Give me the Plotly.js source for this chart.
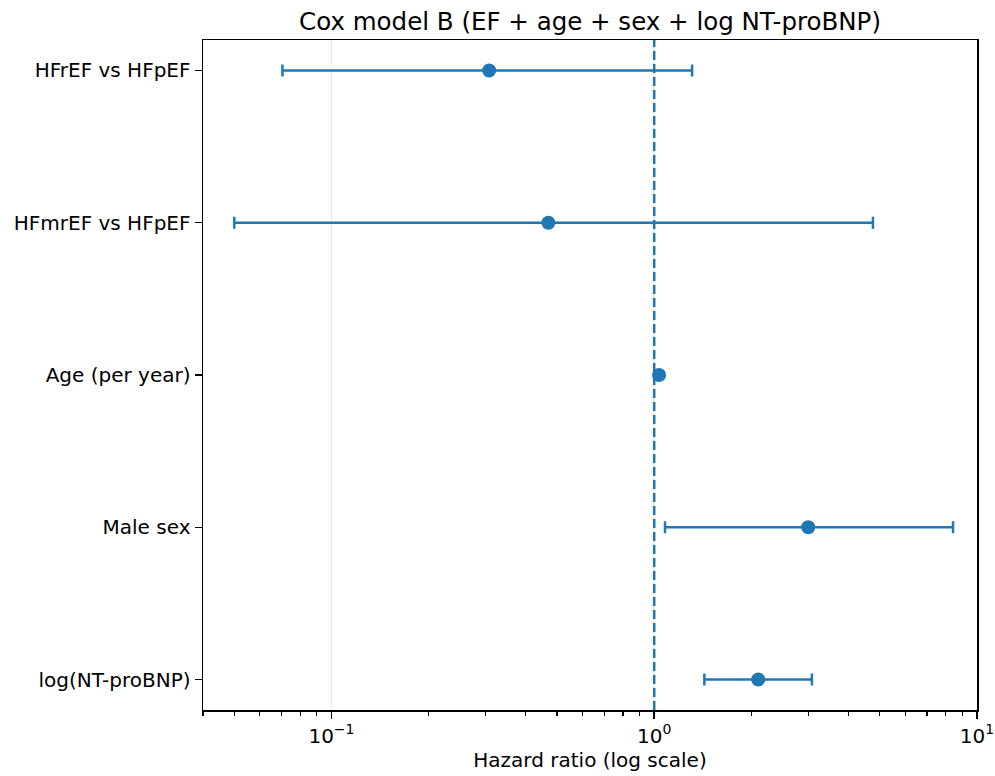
<!DOCTYPE html>
<html>
<head>
<meta charset="utf-8">
<script src="https://cdn.plot.ly/plotly-3.0.1.min.js"></script>
<style>html,body{margin:0;padding:0;background:#fff;}#chart{width:995px;height:776px;}</style>
</head>
<body>
<div id="chart"></div>
<script>
const labels = ["HFrEF vs HFpEF", "HFmrEF vs HFpEF", "Age (per year)", "Male sex", "log(NT-proBNP)"];
const hr = [0.308, 0.47, 1.035, 3.0, 2.10];
const ciLow = [0.0705, 0.050, 1.02, 1.08, 1.43];
const ciHigh = [1.31, 4.76, 1.05, 8.43, 3.08];
const majorTicks = [0.1, 1, 10];
const majorTickText = ["10<sup>\u22121</sup>", "10<sup>0</sup>", "10<sup>1</sup>"];

const pos = labels.map((_, i) => i);
const minorVals = [];
[0.01, 0.1, 1].forEach(d => { for (let k = 2; k <= 9; k++) minorVals.push(+(d * k).toPrecision(3)); });

const color = "#1f77b4";
const trace = {
  type: "scatter",
  mode: "markers",
  x: hr,
  y: pos,
  marker: {color: color, size: 14},
  error_x: {
    type: "data",
    symmetric: false,
    array: hr.map((v, i) => ciHigh[i] - v),
    arrayminus: hr.map((v, i) => v - ciLow[i]),
    color: color,
    thickness: 2.5,
    width: 6
  },
  hoverinfo: "x+y",
  showlegend: false
};

const layout = {
  width: 995,
  height: 776,
  margin: {l: 203, r: 18, t: 40, b: 66},
  paper_bgcolor: "#fff",
  plot_bgcolor: "#fff",
  font: {family: "DejaVu Sans, sans-serif", size: 20, color: "#000"},
  title: {text: "Cox model B (EF + age + sex + log NT-proBNP)", font: {size: 24.5}, x: 0.593, xanchor: "center", y: 0.973, yanchor: "middle"},
  xaxis: {
    type: "log",
    range: [Math.log10(0.04), 1.0],
    tickvals: majorTicks,
    ticktext: majorTickText,
    tickfont: {size: 20},
    ticks: "outside",
    ticklen: 7,
    tickwidth: 1.5,
    tickcolor: "#000",
    showgrid: true,
    gridcolor: "#ebebeb",
    gridwidth: 1.5,
    zeroline: false,
    showline: true,
    linecolor: "#000",
    linewidth: 1.5,
    mirror: true,
    minor: {tickvals: minorVals, ticks: "outside", ticklen: 4, tickwidth: 1.2, tickcolor: "#000", showgrid: false},
    title: {text: "Hazard ratio (log scale)", font: {size: 20}, standoff: 6}
  },
  yaxis: {
    range: [4.2, -0.2],
    tickvals: pos,
    ticktext: labels,
    tickfont: {size: 20},
    ticks: "outside",
    ticklen: 7,
    tickwidth: 1.5,
    tickcolor: "#000",
    showgrid: false,
    zeroline: false,
    showline: true,
    linecolor: "#000",
    linewidth: 1.5,
    mirror: true
  },
  shapes: [{
    type: "line",
    xref: "x",
    yref: "paper",
    x0: 1, x1: 1, y0: 0, y1: 1,
    line: {color: color, width: 2.5, dash: "9px,4px"},
    layer: "above"
  }]
};

Plotly.newPlot("chart", [trace], layout, {displayModeBar: false, staticPlot: true});
</script>
</body>
</html>
